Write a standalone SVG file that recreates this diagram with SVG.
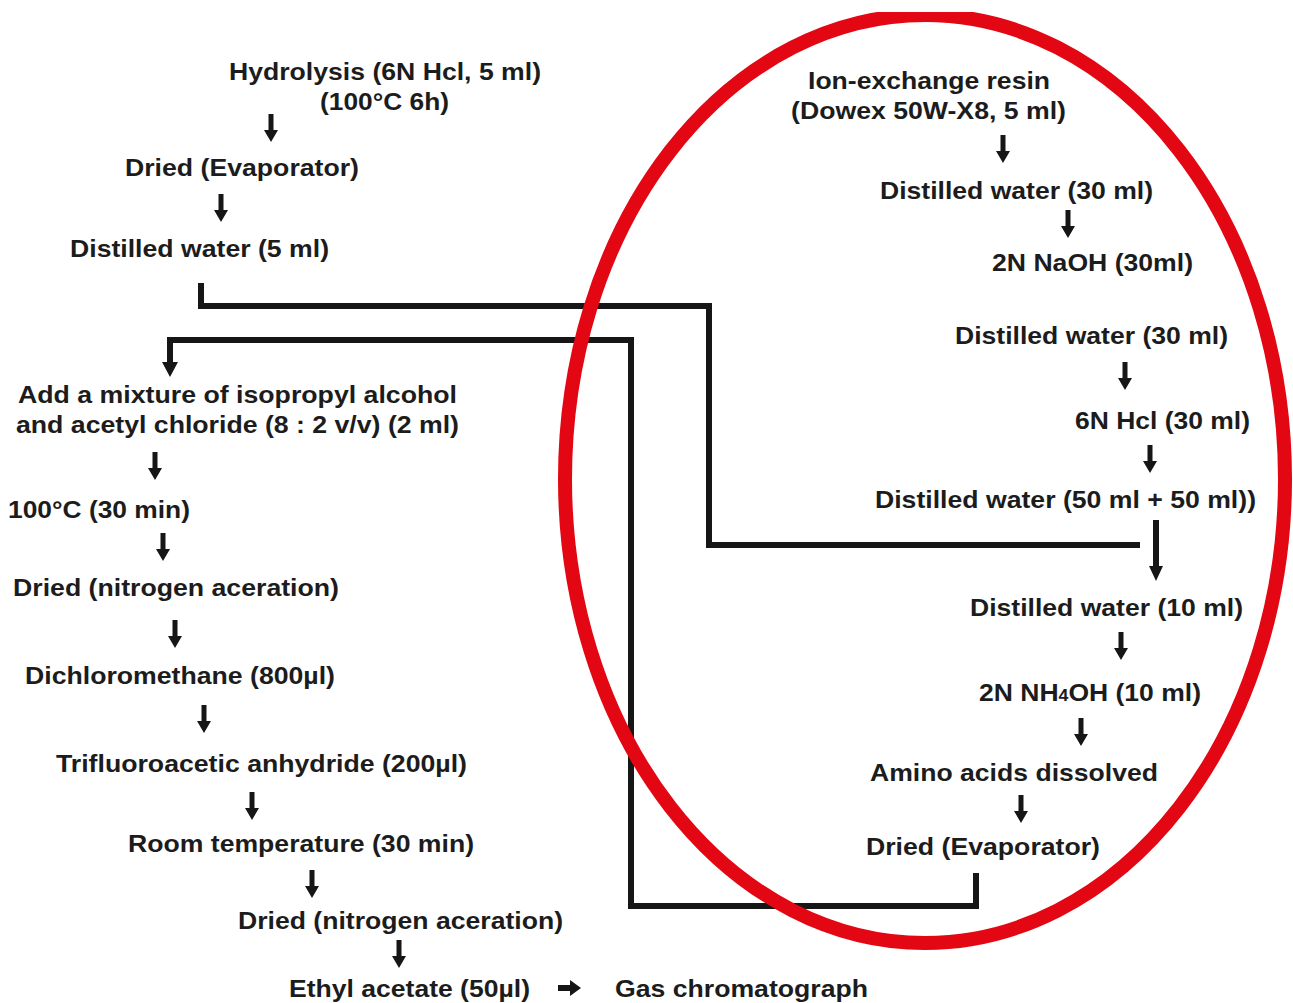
<svg xmlns="http://www.w3.org/2000/svg" width="1293" height="1003" viewBox="0 0 1293 1003">
<style>
  text { font-family: "Liberation Sans", Arial, sans-serif; font-weight: bold; font-size: 24px; fill: #1c1c1c; }
  .conn { fill: none; stroke: #161616; stroke-width: 6; stroke-linejoin: miter; stroke-linecap: butt; }
  .arr { fill: #161616; }
</style>
<defs>
  <path id="dn" d="M-2.5,0 H2.5 V16 H7 L0,28 L-7,16 H-2.5 Z"/>
</defs>
<rect width="1293" height="1003" fill="#ffffff"/>

<g id="connectors">
  <path class="conn" d="M201,283 V306 H709 V545 H1140"/>
  <path class="conn" d="M170,362 V340 H631 V906 H976 V873"/>
  <path class="arr" d="M167,340 H173 V362 H178 L170,377 L162,362 H167 Z"/>
  <path class="arr" d="M1153,520 H1159 V566 H1163 L1156,581 L1149,566 H1153 Z"/>
  <path class="arr" d="M558,985 H570 V980 L581,988 L570,996 V991 H558 Z"/>
</g>

<g id="ellipse">
  <ellipse cx="925" cy="479" rx="360" ry="464" fill="none" stroke="#e30613" stroke-width="14"/>
  <rect x="0" y="0" width="1293" height="12" fill="#ffffff"/>
</g>

<g id="arrows" class="arr">
  <use href="#dn" x="271" y="114"/>
  <use href="#dn" x="221" y="194"/>
  <use href="#dn" x="155" y="452"/>
  <use href="#dn" x="163" y="533"/>
  <use href="#dn" x="175" y="620"/>
  <use href="#dn" x="204" y="705"/>
  <use href="#dn" x="252" y="792"/>
  <use href="#dn" x="312" y="870"/>
  <use href="#dn" x="399" y="940"/>
  <use href="#dn" x="1003" y="135"/>
  <use href="#dn" x="1068" y="210"/>
  <use href="#dn" x="1125" y="362"/>
  <use href="#dn" x="1150" y="445"/>
  <use href="#dn" x="1121" y="632"/>
  <use href="#dn" x="1081" y="718"/>
  <use href="#dn" x="1021" y="795"/>
</g>

<g id="n-hydrolysis"><text x="229" y="80" textLength="312" lengthAdjust="spacingAndGlyphs">Hydrolysis (6N Hcl, 5 ml)</text>
<text x="320" y="110" textLength="129" lengthAdjust="spacingAndGlyphs">(100°C 6h)</text></g>
<g id="n-dried1"><text x="125" y="176" textLength="234" lengthAdjust="spacingAndGlyphs">Dried (Evaporator)</text></g>
<g id="n-water5"><text x="70" y="257" textLength="259" lengthAdjust="spacingAndGlyphs">Distilled water (5 ml)</text></g>
<g id="n-mixture"><text x="18" y="403" textLength="439" lengthAdjust="spacingAndGlyphs">Add a mixture of isopropyl alcohol</text>
<text x="16" y="433" textLength="443" lengthAdjust="spacingAndGlyphs">and acetyl chloride (8 : 2 v/v) (2 ml)</text></g>
<g id="n-100c"><text x="8" y="518" textLength="182" lengthAdjust="spacingAndGlyphs">100°C (30 min)</text></g>
<g id="n-dried2"><text x="13" y="596" textLength="326" lengthAdjust="spacingAndGlyphs">Dried (nitrogen aceration)</text></g>
<g id="n-dcm"><text x="25" y="684" textLength="310" lengthAdjust="spacingAndGlyphs">Dichloromethane (800µl)</text></g>
<g id="n-tfa"><text x="56" y="772" textLength="411" lengthAdjust="spacingAndGlyphs">Trifluoroacetic anhydride (200µl)</text></g>
<g id="n-room"><text x="128" y="852" textLength="346" lengthAdjust="spacingAndGlyphs">Room temperature (30 min)</text></g>
<g id="n-dried3"><text x="238" y="929" textLength="325" lengthAdjust="spacingAndGlyphs">Dried (nitrogen aceration)</text></g>
<g id="n-ethyl"><text x="289" y="997" textLength="241" lengthAdjust="spacingAndGlyphs">Ethyl acetate (50µl)</text></g>
<g id="n-gc"><text x="615" y="997" textLength="253" lengthAdjust="spacingAndGlyphs">Gas chromatograph</text></g>

<g id="n-resin"><text x="808" y="89" textLength="242" lengthAdjust="spacingAndGlyphs">Ion-exchange resin</text>
<text x="791" y="119" textLength="275" lengthAdjust="spacingAndGlyphs">(Dowex 50W-X8, 5 ml)</text></g>
<g id="n-r-water30a"><text x="880" y="199" textLength="273" lengthAdjust="spacingAndGlyphs">Distilled water (30 ml)</text></g>
<g id="n-naoh"><text x="992" y="271" textLength="201" lengthAdjust="spacingAndGlyphs">2N NaOH (30ml)</text></g>
<g id="n-r-water30b"><text x="955" y="344" textLength="273" lengthAdjust="spacingAndGlyphs">Distilled water (30 ml)</text></g>
<g id="n-hcl"><text x="1075" y="429" textLength="175" lengthAdjust="spacingAndGlyphs">6N Hcl (30 ml)</text></g>
<g id="n-r-water50"><text x="875" y="508" textLength="381" lengthAdjust="spacingAndGlyphs">Distilled water (50 ml + 50 ml))</text></g>
<g id="n-r-water10"><text x="970" y="616" textLength="273" lengthAdjust="spacingAndGlyphs">Distilled water (10 ml)</text></g>
<g id="n-nh4oh"><text x="979" y="701" textLength="222" lengthAdjust="spacingAndGlyphs">2N NH<tspan font-size="16">4</tspan>OH (10 ml)</text></g>
<g id="n-amino"><text x="870" y="781" textLength="288" lengthAdjust="spacingAndGlyphs">Amino acids dissolved</text></g>
<g id="n-r-dried"><text x="866" y="855" textLength="234" lengthAdjust="spacingAndGlyphs">Dried (Evaporator)</text></g>
</svg>
